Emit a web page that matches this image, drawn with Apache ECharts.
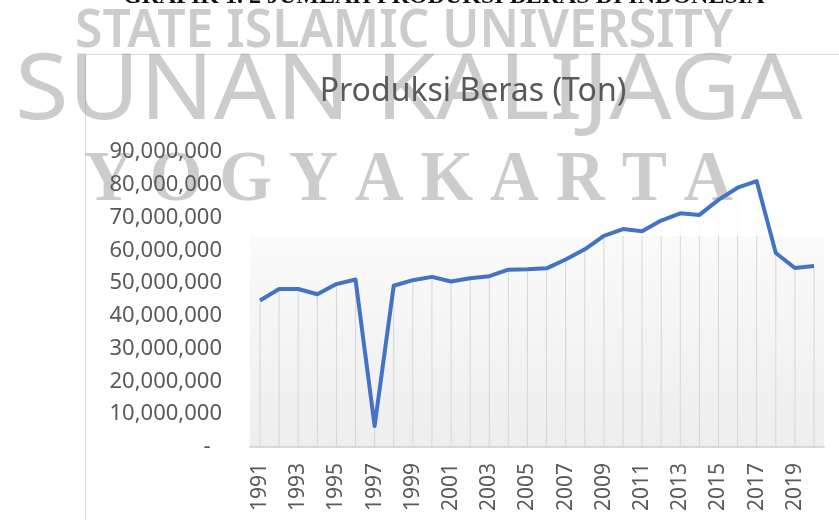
<!DOCTYPE html>
<html>
<head>
<meta charset="utf-8">
<title>Produksi Beras (Ton)</title>
<script src="https://cdn.jsdelivr.net/npm/echarts@6/dist/echarts.min.js"></script>
<style>
  html, body { margin: 0; padding: 0; background: #fff; }
  #chart { width: 839px; height: 520px; }
</style>
</head>
<body>
<div id="chart"></div>
<script>
// data
const years = ['1991','1992','1993','1994','1995','1996','1997','1998','1999','2000',
    '2001','2002','2003','2004','2005','2006','2007','2008','2009','2010',
    '2011','2012','2013','2014','2015','2016','2017','2018','2019','2020'];
const produksi = [44700000, 48200000, 48200000, 46600000, 49700000, 51100000, 6400000, 49200000, 50900000, 51900000,
    50500000, 51500000, 52100000, 54100000, 54200000, 54500000, 57200000, 60300000, 64400000, 66500000,
    65800000, 69100000, 71300000, 70800000, 75400000, 79100000, 81100000, 59200000, 54600000, 55200000];
const yTicks = { min: 0, max: 90000000, step: 10000000 };

const grey = '#595959';
const wm = '#9a9a9a';

const chart = echarts.init(document.getElementById('chart'));

// format angka pakai koma, nol jadi "-"
function fmt(v) {
    if (v === 0) return '-  ';
    return String(v).replace(/\B(?=(\d{3})+(?!\d))/g, ',');
}

const option = {
    backgroundColor: '#fff',
    animation: false,
    title: {
        text: 'Produksi Beras (Ton)',
        left: 468,
        top: 71,
        textAlign: 'center',
        z: 6,
        textStyle: { color: grey, fontSize: 32, fontWeight: 'normal', fontFamily: 'Noto Sans' }
    },
    grid: [
        // grid utama
        { left: 260, right: 25, top: 152, bottom: 73 },
        // cuma buat background plot area
        {
            left: 250, right: 15, top: 150, bottom: 73, show: true, borderWidth: 0,
            backgroundColor: new echarts.graphic.LinearGradient(0, 0, 0, 1, [
                { offset: 0, color: '#ffffff' },
                { offset: 0.25, color: '#fbfbfb' },
                { offset: 1, color: '#eeeeee' }
            ]),
            z: 0
        }
    ],
    xAxis: [
        {
            type: 'category',
            gridIndex: 0,
            data: years,
            boundaryGap: false,
            z: 4,
            axisLine: { show: false },
            axisTick: { show: false },
            axisLabel: {
                interval: 1,
                rotate: 90,
                margin: 16,
                color: grey,
                fontSize: 21,
                fontFamily: 'Noto Sans'
            },
            splitLine: { show: false }
        },
        {
            type: 'value',
            gridIndex: 1,
            min: 0, max: 1,
            axisLine: { show: true, lineStyle: { color: '#d9d9d9', width: 2 } },
            axisTick: { show: false },
            axisLabel: { show: false },
            splitLine: { show: false }
        }
    ],
    yAxis: [
        {
            type: 'value',
            gridIndex: 0,
            min: yTicks.min,
            max: yTicks.max,
            interval: yTicks.step,
            z: 4,
            axisLine: { show: false },
            axisTick: { show: false },
            splitLine: { show: false },
            axisLabel: {
                margin: 38,
                color: grey,
                fontSize: 22,
                fontFamily: 'Noto Sans',
                formatter: fmt
            }
        },
        {
            type: 'value',
            gridIndex: 1,
            min: 0, max: 1,
            axisLine: { show: false },
            axisTick: { show: false },
            axisLabel: { show: false },
            splitLine: { show: false }
        }
    ],
    series: [
        {
            // drop lines dari titik ke sumbu
            name: 'drop',
            type: 'bar',
            xAxisIndex: 0,
            yAxisIndex: 0,
            data: produksi,
            barWidth: 1,
            itemStyle: { color: '#d6d6d6' },
            silent: true,
            z: 1
        },
        {
            name: 'Produksi Beras',
            type: 'line',
            xAxisIndex: 0,
            yAxisIndex: 0,
            data: produksi,
            showSymbol: false,
            symbol: 'none',
            lineStyle: { color: '#4472c4', width: 4, join: 'round' },
            z: 3
        }
    ],
    graphic: [
        // latar putih watermark nutup bagian atas plot
        {
            type: 'rect', z: 1.5, silent: true,
            shape: { x: 0, y: 0, width: 839, height: 236 },
            style: { fill: '#fff', opacity: 0.85 }
        },
        // bingkai chart
        {
            type: 'rect', z: 1.6, silent: true,
            shape: { x: 85.5, y: 54.5, width: 800, height: 520 },
            style: { fill: 'none', stroke: '#d9d9d9', lineWidth: 1 }
        },
        // judul dokumen (kepotong di atas)
        {
            type: 'text', z: 5, silent: true, x: 123, y: -3,
            style: {
                text: 'GRAFIK 1. 2 JUMLAH PRODUKSI BERAS DI INDONESIA',
                fill: '#111', font: 'bold 24px "Liberation Serif"', verticalAlign: 'middle'
            }
        },
        // watermark
        {
            type: 'text', z: 2, silent: true, x: 75, y: 32, scaleX: 0.94,
            style: {
                text: 'STATE ISLAMIC UNIVERSITY',
                fill: wm, opacity: 0.5, font: '600 53px "Noto Sans"', verticalAlign: 'middle'
            }
        },
        {
            type: 'text', z: 2, silent: true, x: 15, y: 93, scaleX: 1.06,
            style: {
                text: 'SUNAN KALIJAGA',
                fill: wm, opacity: 0.5, font: 'normal 92px "Noto Sans"', verticalAlign: 'middle'
            }
        },
        {
            type: 'text', z: 2, silent: true, x: 84, y: 181, scaleX: 0.94,
            style: {
                text: 'Y O G Y A K A R T A',
                fill: wm, opacity: 0.5, font: 'bold 72px "Liberation Serif"', verticalAlign: 'middle'
            }
        }
    ]
};

chart.setOption(option);
</script>
</body>
</html>
